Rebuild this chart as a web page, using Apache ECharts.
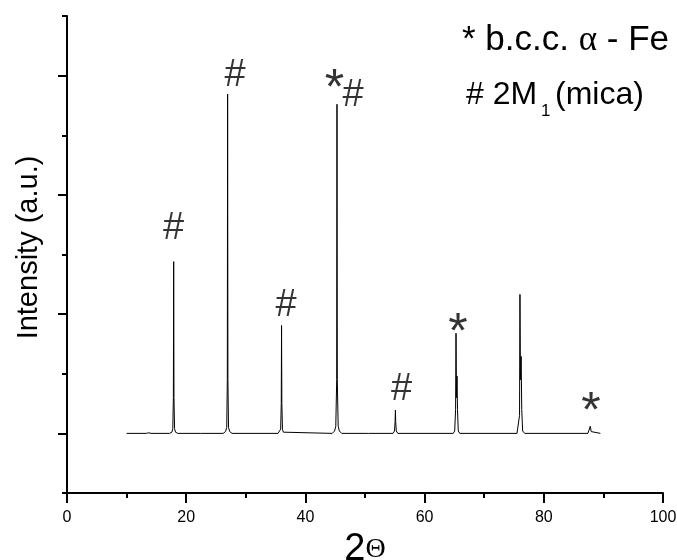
<!DOCTYPE html>
<html>
<head>
<meta charset="utf-8">
<script src="https://cdn.jsdelivr.net/npm/echarts@6/dist/echarts.min.js"></script>
<style>
  html, body { margin: 0; padding: 0; background: #fff; }
  #chart { width: 677px; height: 560px; }
</style>
</head>
<body>
<div id="chart"></div>
<script>
// 2theta (deg) and intensity (a.u., baseline ~1)
var twoTheta = [
  10.0, 13.3, 13.7, 14.1,
  17.2, 17.6, 17.75, 17.85, 17.9, 17.95, 18.05, 18.2, 18.6,
  22.4, 22.6, 22.8,
  26.2, 26.6, 26.8, 26.9, 26.95, 27.0, 27.1, 27.3, 27.7,
  35.4, 35.7, 35.85, 35.95, 36.0, 36.05, 36.15, 36.3, 36.6,
  44.5, 44.9, 45.1, 45.25, 45.3, 45.35, 45.5, 45.7, 46.1,
  50.2, 50.4, 50.6,
  54.7, 54.95, 55.05, 55.1, 55.15, 55.25, 55.5,
  64.8, 65.05, 65.2, 65.27, 65.35, 65.44, 65.52, 65.65, 65.9,
  75.5, 75.8, 75.93, 76.0, 76.08, 76.2, 76.3, 76.45, 76.8,
  87.4, 87.65, 87.8, 87.95, 88.2,
  89.5
];
var intensity = [
  1.0, 1.0, 1.01, 1.0,
  1.0, 1.02, 1.08, 1.6, 3.88, 1.6, 1.08, 1.02, 1.0,
  1.0, 1.01, 1.0,
  1.0, 1.03, 1.1, 1.9, 6.69, 1.9, 1.1, 1.03, 1.0,
  1.0, 1.02, 1.07, 1.5, 2.81, 1.5, 1.07, 1.02, 1.0,
  1.0, 1.04, 1.12, 1.9, 6.52, 1.9, 1.12, 1.04, 1.0,
  1.0, 1.01, 1.0,
  1.0, 1.04, 1.2, 1.39, 1.2, 1.04, 1.0,
  1.0, 1.04, 1.4, 2.68, 1.6, 1.96, 1.4, 1.04, 1.0,
  1.0, 1.03, 1.3, 3.33, 1.9, 2.29, 1.4, 1.04, 1.0,
  1.0, 1.03, 1.12, 1.03, 1.0,
  1.0
];

// peak markers
var markX = [17.87, 28.19, 36.74, 44.88, 47.99, 56.12, 65.6, 87.9];
var markY = [4.44, 7.01, 3.14, 6.95, 6.66, 1.74, 2.87, 1.54];
var markText = ['#', '#', '#', '*', '#', '#', '*', '*'];

var xTicks = [0, 20, 40, 60, 80, 100];

var chart = echarts.init(document.getElementById('chart'));

var lineData = twoTheta.map(function(t, i){ return [t, intensity[i]]; });
var markData = markX.map(function(x, i){
    var item = {value: [x, markY[i]], name: markText[i]};
    if (markText[i] === '*') {
        item.label = {fontSize: 50, offset: [0, 12]};
    }
    return item;
});

var font = 'Liberation Sans, Arial, sans-serif';

var option = {
    animation: false,
    backgroundColor: '#fff',
    grid: {left: 67, right: 14, top: 16, bottom: 67, outerBoundsMode: 'none', containLabel: false},
    xAxis: {
        type: 'value',
        min: xTicks[0],
        max: xTicks[xTicks.length - 1],
        interval: 20,
        name: '{a|2}{b|Θ}',
        nameLocation: 'middle',
        nameGap: 35,
        nameTextStyle: {
            rich: {
                a: {fontSize: 38, fontFamily: font, color: '#000'},
                b: {fontSize: 28, fontFamily: 'Liberation Serif, serif', color: '#000'}
            }
        },
        axisLine: {lineStyle: {color: '#000', width: 2}},
        axisTick: {length: 10, lineStyle: {color: '#000', width: 2}},
        minorTick: {show: true, splitNumber: 2, length: 5, lineStyle: {color: '#000', width: 2}},
        axisLabel: {fontSize: 16, fontFamily: font, color: '#000', margin: 17},
        splitLine: {show: false}
    },
    yAxis: {
        type: 'value',
        min: 0,
        max: 8,
        interval: 2,
        name: 'Intensity (a.u.)',
        nameLocation: 'middle',
        nameGap: 24,
        nameTextStyle: {fontSize: 29, fontFamily: font, color: '#000', padding: [0, 0, 0, 14]},
        axisLine: {show: true, lineStyle: {color: '#000', width: 2}},
        axisTick: {show: true, length: 5, lineStyle: {color: '#000', width: 2}},
        minorTick: {show: true, splitNumber: 2, length: 9, lineStyle: {color: '#000', width: 2}},
        axisLabel: {show: false},
        splitLine: {show: false}
    },
    series: [
        {
            type: 'line',
            data: lineData,
            showSymbol: false,
            symbol: 'none',
            lineStyle: {color: '#000', width: 1},
            silent: true
        },
        {
            type: 'scatter',
            data: markData,
            symbolSize: 1,
            itemStyle: {color: 'rgba(0,0,0,0)'},
            silent: true,
            label: {
                show: true,
                position: 'inside',
                formatter: function(p){ return p.name; },
                fontSize: 38,
                fontFamily: font,
                color: '#000'
            }
        }
    ],
    graphic: [
        {
            type: 'text',
            left: 462,
            top: 23,
            style: {
                text: '{a|* b.c.c. }{g|α}{a| - Fe}',
                rich: {
                    a: {fontSize: 35, fontFamily: font, fill: '#000'},
                    g: {fontSize: 35, fontFamily: 'Liberation Serif, serif', fill: '#000'}
                }
            }
        },
        {
            type: 'text',
            left: 466,
            top: 79,
            style: {text: '# 2M', fontSize: 32, fontFamily: font, fill: '#000'}
        },
        {
            type: 'text',
            left: 541,
            top: 103,
            style: {text: '1', fontSize: 17, fontFamily: font, fill: '#000'}
        },
        {
            type: 'text',
            left: 555,
            top: 79,
            style: {text: '(mica)', fontSize: 32, fontFamily: font, fill: '#000'}
        }
    ]
};

chart.setOption(option);
</script>
</body>
</html>
